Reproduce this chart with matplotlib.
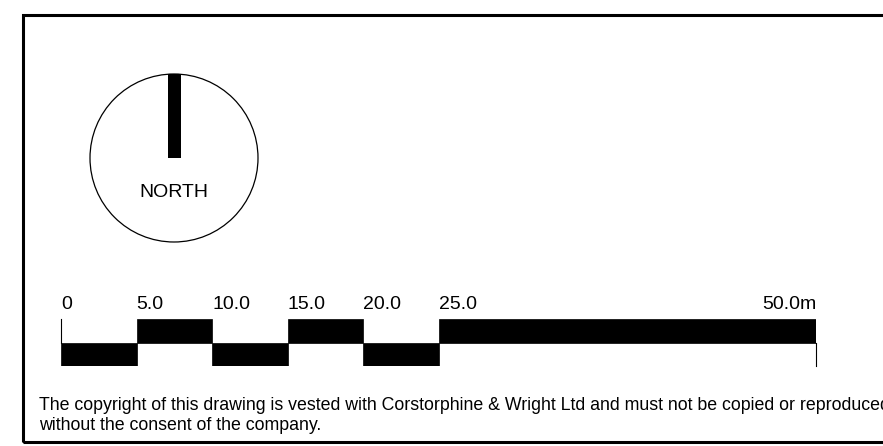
import matplotlib
matplotlib.use("Agg")
import matplotlib.pyplot as plt
from matplotlib.patches import Circle, Rectangle

# ---- data ----
tick_values = [0, 5, 10, 15, 20, 25, 50]
tick_labels = ["0", "5.0", "10.0", "15.0", "20.0", "25.0", "50.0m"]
seg_starts = [0, 5, 10, 15, 20, 25]
seg_ends = [5, 10, 15, 20, 25, 50]
seg_levels = [0, 1, 0, 1, 0, 1]   # 0 = lower band, 1 = upper band
north_label = "NORTH"
copyright_lines = [
    "The copyright of this drawing is vested with Corstorphine & Wright Ltd and must not be copied or reproduced",
    "without the consent of the company.",
]

W, H = 883, 446
fig = plt.figure(figsize=(W / 100, H / 100), dpi=100)
fig.patch.set_facecolor("white")
FONT = ["Liberation Sans", "DejaVu Sans"]

# outer border
fig.patches.append(Rectangle((23 / W, 1 - 442 / H), 2.0, (442 - 15) / H,
                             transform=fig.transFigure, fill=False,
                             edgecolor="black", linewidth=2.2, zorder=10))

# ---- compass ----
cax = fig.add_axes([90 / W, 1 - 242 / H, 168 / W, 168 / H])
cax.set_xlim(-1, 1)
cax.set_ylim(-1, 1)
cax.axis("off")
cax.add_patch(Circle((0, 0), 1, fill=False, edgecolor="black", linewidth=0.9, clip_on=False))
cax.add_patch(Rectangle((-6.5 / 84, 0), 13 / 84, 1, facecolor="black", edgecolor="none", clip_on=False))
cax.text(0, -0.41, north_label, ha="center", va="center", fontsize=14, family=FONT)

# ---- scale bar ----
sax = fig.add_axes([61 / W, 1 - 366 / H, (816 - 61) / W, (366 - 319) / H])
sax.set_xlim(0, 50)
sax.set_ylim(0, 2)
sax.axis("off")
for s, e, lv in zip(seg_starts, seg_ends, seg_levels):
    sax.bar(s, 1, width=e - s, bottom=lv, align="edge", color="black",
            edgecolor="black", linewidth=0.5)
sax.plot([tick_values[0]] * 2, [1, 2], color="black", lw=0.8, clip_on=False)
sax.plot([tick_values[-1]] * 2, [0, 1], color="black", lw=0.8, clip_on=False)
for i, (v, lab) in enumerate(zip(tick_values, tick_labels)):
    ha = "right" if i == len(tick_values) - 1 else "left"
    sax.annotate(lab, (v, 2), xytext=(0, 7.3), textcoords="offset points",
                 ha=ha, va="baseline", fontsize=14, family=FONT,
                 annotation_clip=False)

# ---- copyright ----
for i, line in enumerate(copyright_lines):
    fig.text(39 / W, 1 - (410 + 20.5 * i) / H, line, ha="left", va="baseline",
             fontsize=12.75, family=FONT)

fig.savefig("out.png", dpi=100, facecolor="white")
